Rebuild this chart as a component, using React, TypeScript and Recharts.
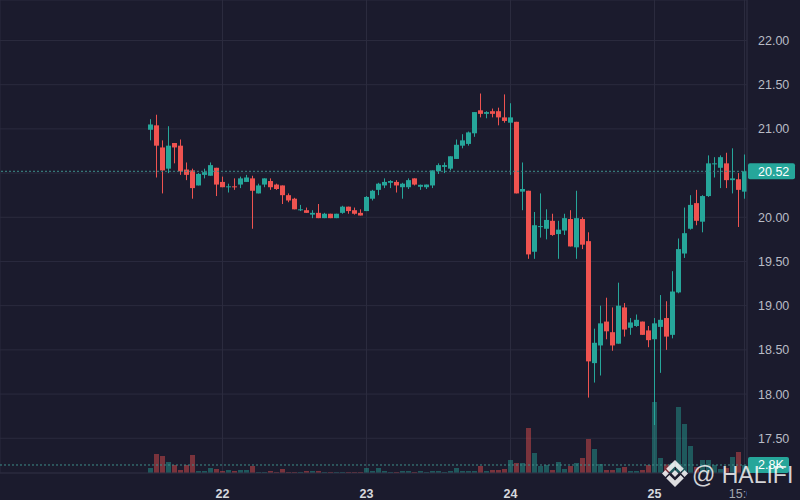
import React from 'react';
import { ComposedChart, Bar, XAxis, YAxis, CartesianGrid, ReferenceLine } from 'recharts';

const OPEN = [20.99, 21.04, 20.79, 20.55, 20.84, 20.81, 20.54, 20.53, 20.36, 20.48, 20.47, 20.56, 20.40, 20.34, 20.35, 20.37, 20.40, 20.44, 20.27, 20.37, 20.41, 20.37, 20.36, 20.25, 20.21, 20.08, 20.08, 20.03, 20.05, 19.99, 20.04, 19.99, 20.05, 20.12, 20.08, 20.05, 20.07, 20.21, 20.31, 20.36, 20.39, 20.40, 20.34, 20.34, 20.44, 20.345, 20.34, 20.36, 20.52, 20.57, 20.55, 20.66, 20.81, 20.83, 20.95, 21.21, 21.17, 21.20, 21.20, 21.13, 21.07, 21.08, 20.29, 20.30, 19.61, 19.89, 19.87, 19.96, 19.81, 19.85, 19.98, 19.66, 19.98, 19.73, 18.35, 18.55, 18.82, 18.70, 18.57, 18.98, 18.75, 18.77, 18.82, 18.72, 18.62, 18.76, 18.86, 18.67, 19.15, 19.59, 19.87, 20.16, 19.95, 20.24, 20.60, 20.56, 20.61, 20.42, 20.43, 20.29];
const HIGH = [21.11, 21.16, 20.87, 21.03, 20.84, 20.88, 20.62, 20.55, 20.50, 20.55, 20.62, 20.56, 20.46, 20.38, 20.44, 20.46, 20.48, 20.47, 20.38, 20.44, 20.44, 20.38, 20.36, 20.27, 20.22, 20.14, 20.11, 20.08, 20.15, 20.05, 20.04, 20.04, 20.13, 20.12, 20.11, 20.09, 20.24, 20.31, 20.39, 20.44, 20.42, 20.42, 20.39, 20.44, 20.44, 20.37, 20.37, 20.53, 20.61, 20.62, 20.69, 20.88, 20.94, 20.97, 21.19, 21.40, 21.20, 21.23, 21.24, 21.39, 21.29, 21.08, 20.62, 20.30, 20.06, 20.27, 20.09, 20.04, 19.96, 20.04, 20.08, 20.30, 20.00, 19.83, 18.74, 19.00, 19.09, 18.98, 19.26, 19.03, 18.86, 18.90, 18.82, 18.77, 18.86, 19.12, 19.05, 19.39, 19.76, 20.11, 20.25, 20.31, 20.25, 20.70, 20.68, 20.70, 20.73, 20.78, 20.50, 20.71];
const LOW = [20.87, 20.45, 20.27, 20.50, 20.61, 20.48, 20.42, 20.21, 20.36, 20.44, 20.47, 20.24, 20.34, 20.28, 20.31, 20.33, 20.40, 19.87, 20.27, 20.34, 20.31, 20.31, 20.15, 20.17, 20.09, 20.07, 20.05, 19.99, 19.99, 19.99, 19.99, 19.99, 20.04, 20.04, 20.03, 20.02, 20.07, 20.19, 20.25, 20.33, 20.33, 20.28, 20.21, 20.32, 20.36, 20.31, 20.32, 20.33, 20.49, 20.50, 20.53, 20.66, 20.78, 20.81, 20.91, 21.13, 21.12, 21.13, 21.04, 21.07, 20.48, 20.27, 20.08, 19.53, 19.53, 19.77, 19.75, 19.79, 19.53, 19.80, 19.67, 19.53, 19.64, 17.96, 18.13, 18.21, 18.62, 18.49, 18.57, 18.65, 18.67, 18.76, 18.67, 18.53, 17.65, 18.24, 18.50, 18.63, 19.14, 19.54, 19.86, 19.91, 19.83, 20.23, 20.45, 20.33, 20.33, 20.27, 19.89, 20.21];
const CLOSE = [21.05, 20.81, 20.53, 20.81, 20.79, 20.52, 20.48, 20.33, 20.49, 20.51, 20.59, 20.37, 20.34, 20.35, 20.34, 20.44, 20.45, 20.30, 20.36, 20.44, 20.34, 20.32, 20.25, 20.19, 20.09, 20.09, 20.05, 20.05, 19.99, 20.04, 19.99, 20.04, 20.12, 20.07, 20.04, 20.02, 20.23, 20.30, 20.38, 20.40, 20.41, 20.36, 20.38, 20.42, 20.37, 20.367, 20.37, 20.53, 20.59, 20.59, 20.69, 20.82, 20.87, 20.96, 21.19, 21.17, 21.19, 21.17, 21.13, 21.09, 21.13, 20.27, 20.32, 19.58, 19.91, 19.90, 19.97, 19.80, 19.86, 19.99, 19.67, 19.99, 19.69, 18.37, 18.58, 18.80, 18.71, 18.55, 19.00, 18.73, 18.81, 18.84, 18.67, 18.61, 18.80, 18.84, 18.65, 19.16, 19.64, 19.82, 20.14, 19.96, 20.24, 20.61, 20.61, 20.68, 20.42, 20.44, 20.31, 20.52];
const VOLUME_K = [1.75, 6.65, 5.95, 3.85, 2.8, 1.05, 2.8, 6.3, 0.7, 0.7, 1.75, 1.4, 0.7, 1.05, 0.7, 1.05, 1.05, 2.45, 0.35, 0.35, 0.7, 0.35, 1.4, 0.35, 0.35, 0.35, 0.7, 0.7, 0.7, 0.35, 0.35, 0.35, 0.35, 0.35, 0.35, 0.35, 1.75, 0.7, 1.75, 0.7, 0.35, 0.35, 0.7, 0.7, 0.35, 0.7, 0.35, 0.7, 0.7, 0.35, 0.7, 1.75, 0.7, 0.7, 0.7, 2.45, 0.7, 1.05, 1.05, 1.4, 4.55, 3.5, 3.5, 15.75, 7.0, 2.45, 2.8, 1.05, 3.85, 1.4, 2.45, 3.5, 5.25, 11.9, 8.4, 3.15, 1.05, 1.05, 1.75, 2.1, 0.7, 0.7, 1.05, 2.8, 24.85, 5.25, 3.0, 3.5, 23.1, 17.15, 9.45, 2.1, 4.55, 4.55, 2.8, 1.4, 1.75, 5.6, 7.35, 2.8];

const TIME_TICKS = [12, 36, 60, 84, 99];
const TIME_LABELS = ['22', '23', '24', '25', '15:00'];
const PRICE_TICKS = [17.5, 18, 18.5, 19, 19.5, 20, 20.5, 21, 21.5, 22];
const LAST_PRICE = 20.52;
const LAST_VOLUME_K = 2.8;

const BG = '#1b1b2d';
const GRID = '#2b2b3e';
const UP = '#26a69a';
const DOWN = '#ef5350';
const FONT = '"Liberation Sans", Arial, sans-serif';

const data = OPEN.map((o, i) => ({
  i,
  open: o,
  high: HIGH[i],
  low: LOW[i],
  close: CLOSE[i],
  range: [LOW[i], HIGH[i]],
  volume: VOLUME_K[i],
}));

const Candle = (props: any) => {
  let { x, y, width, height, payload } = props;
  if (payload == null || x == null) return null;
  if (height < 0) {
    y = y + height;
    height = -height;
  }
  const { open, close, high, low } = payload;
  const color = close >= open ? UP : DOWN;
  const span = high - low;
  const ppu = span > 0 ? height / span : 0;
  const yOf = (v: number) => y + (high - v) * ppu;
  const top = yOf(Math.max(open, close));
  const bot = yOf(Math.min(open, close));
  const cx = Math.round(x) + width / 2;
  return (
    <g>
      <line x1={cx} x2={cx} y1={y} y2={y + height} stroke={color} strokeWidth={1} />
      <rect x={Math.round(x)} y={top} width={width} height={Math.max(1, bot - top)} fill={color} />
    </g>
  );
};

const VolBar = (props: any) => {
  const { x, y, width, height, payload } = props;
  if (payload == null || x == null) return null;
  const color = payload.close >= payload.open ? UP : DOWN;
  return <rect x={Math.round(x)} y={y} width={width} height={Math.max(0, height)} fill={color} fillOpacity={0.45} />;
};

const TimeTick = (props: any) => {
  const { x, y, payload } = props;
  const idx = TIME_TICKS.indexOf(payload.value);
  const label = idx >= 0 ? TIME_LABELS[idx] : '';
  const isTime = label.indexOf(':') >= 0;
  if (isTime) {
    return (
      <g>
        <defs>
          <clipPath id="timeClip">
            <rect x={0} y={0} width={747} height={500} />
          </clipPath>
        </defs>
        <text x={x} y={y + 17} textAnchor="middle" fill="#a3a6af" fontSize={12.5} fontFamily={FONT} clipPath="url(#timeClip)">
          {label}
        </text>
      </g>
    );
  }
  return (
    <text x={x} y={y + 17} textAnchor="middle" fill="#d6d8de" fontSize={12.5} fontWeight={700} fontFamily={FONT}>
      {label}
    </text>
  );
};

const PriceTick = (props: any) => {
  const { x, y, payload } = props;
  if (Math.abs(payload.value - LAST_PRICE) < 0.1) return null;
  return (
    <text x={x + 11} y={y} dy={4.5} textAnchor="start" fill="#b9bcc5" fontSize={12.5} fontFamily={FONT}>
      {Number(payload.value).toFixed(2)}
    </text>
  );
};

const Tag = (props: any) => {
  const { viewBox, text, w } = props;
  if (!viewBox) return null;
  const y = viewBox.y;
  const bx = 748;
  return (
    <g>
      <rect x={bx} y={y - 8} width={w} height={16} rx={2} fill={UP} />
      <text x={bx + 10} y={y} dy={4.5} fill="#ffffff" fontSize={12.5} fontFamily={FONT}>
        {text}
      </text>
    </g>
  );
};

const D0 = -150.5 / 6;
const D1 = D0 + 747 / 6;

export default function App() {
  return (
    <div style={{ position: 'absolute', left: 0, top: 0, width: 800, height: 500, background: BG, overflow: 'hidden' }}>
      <ComposedChart width={800} height={500} data={data} margin={{ top: 0, right: 0, bottom: 0, left: 0 }}>
        <CartesianGrid xAxisId="t" yAxisId="p" stroke={GRID} strokeWidth={1} />
        <XAxis
          xAxisId="t"
          dataKey="i"
          type="number"
          domain={[D0, D1]}
          allowDataOverflow
          ticks={TIME_TICKS}
          interval={0}
          tick={<TimeTick />}
          tickLine={false}
          axisLine={{ stroke: GRID }}
          height={27}
        />
        <XAxis xAxisId="v" dataKey="i" type="number" domain={[D0, D1]} allowDataOverflow hide />
        <YAxis
          yAxisId="p"
          orientation="right"
          width={53}
          type="number"
          domain={[17.107, 22.458]}
          allowDataOverflow
          ticks={PRICE_TICKS}
          interval={0}
          tick={<PriceTick />}
          tickLine={false}
          tickSize={0}
          tickMargin={0}
          axisLine={{ stroke: GRID }}
        />
        <YAxis yAxisId="v" hide type="number" domain={[0, 165.5]} allowDataOverflow />
        <Bar xAxisId="v" yAxisId="v" dataKey="volume" barSize={5} shape={<VolBar />} isAnimationActive={false} />
        <Bar xAxisId="t" yAxisId="p" dataKey="range" barSize={5} shape={<Candle />} isAnimationActive={false} />
        <ReferenceLine
          xAxisId="v"
          yAxisId="v"
          y={LAST_VOLUME_K}
          stroke="#3e8f8a"
          strokeDasharray="2 2"
          label={(p: any) => <Tag {...p} text="2.8K" w={41} />}
        />
        <ReferenceLine
          xAxisId="t"
          yAxisId="p"
          y={LAST_PRICE}
          stroke="#3e8f8a"
          strokeDasharray="2 2"
          label={(p: any) => <Tag {...p} text="20.52" w={47} />}
        />
      </ComposedChart>
      <svg width={800} height={500} style={{ position: 'absolute', left: 0, top: 0, pointerEvents: 'none' }}>
        <g transform="translate(659,457.5)" fill="#ffffff" fillOpacity={0.85}>
          <polygon points="16,12.6 19.4,16 16,19.4 12.6,16" />
          <polygon points="6.4,12.6 9.8,16 6.4,19.4 3,16" />
          <polygon points="25.6,12.6 29,16 25.6,19.4 22.2,16" />
          <polygon points="16,2.5 24.8,11.3 21.6,14.5 16,8.9 10.4,14.5 7.2,11.3" />
          <polygon points="16,29.5 7.2,20.7 10.4,17.5 16,23.1 21.6,17.5 24.8,20.7" />
        </g>
        <text x={692} y={483} fill="#ffffff" fillOpacity={0.82} fontSize={23} fontFamily={FONT}>
          @ HALIFI
        </text>
      </svg>
    </div>
  );
}
